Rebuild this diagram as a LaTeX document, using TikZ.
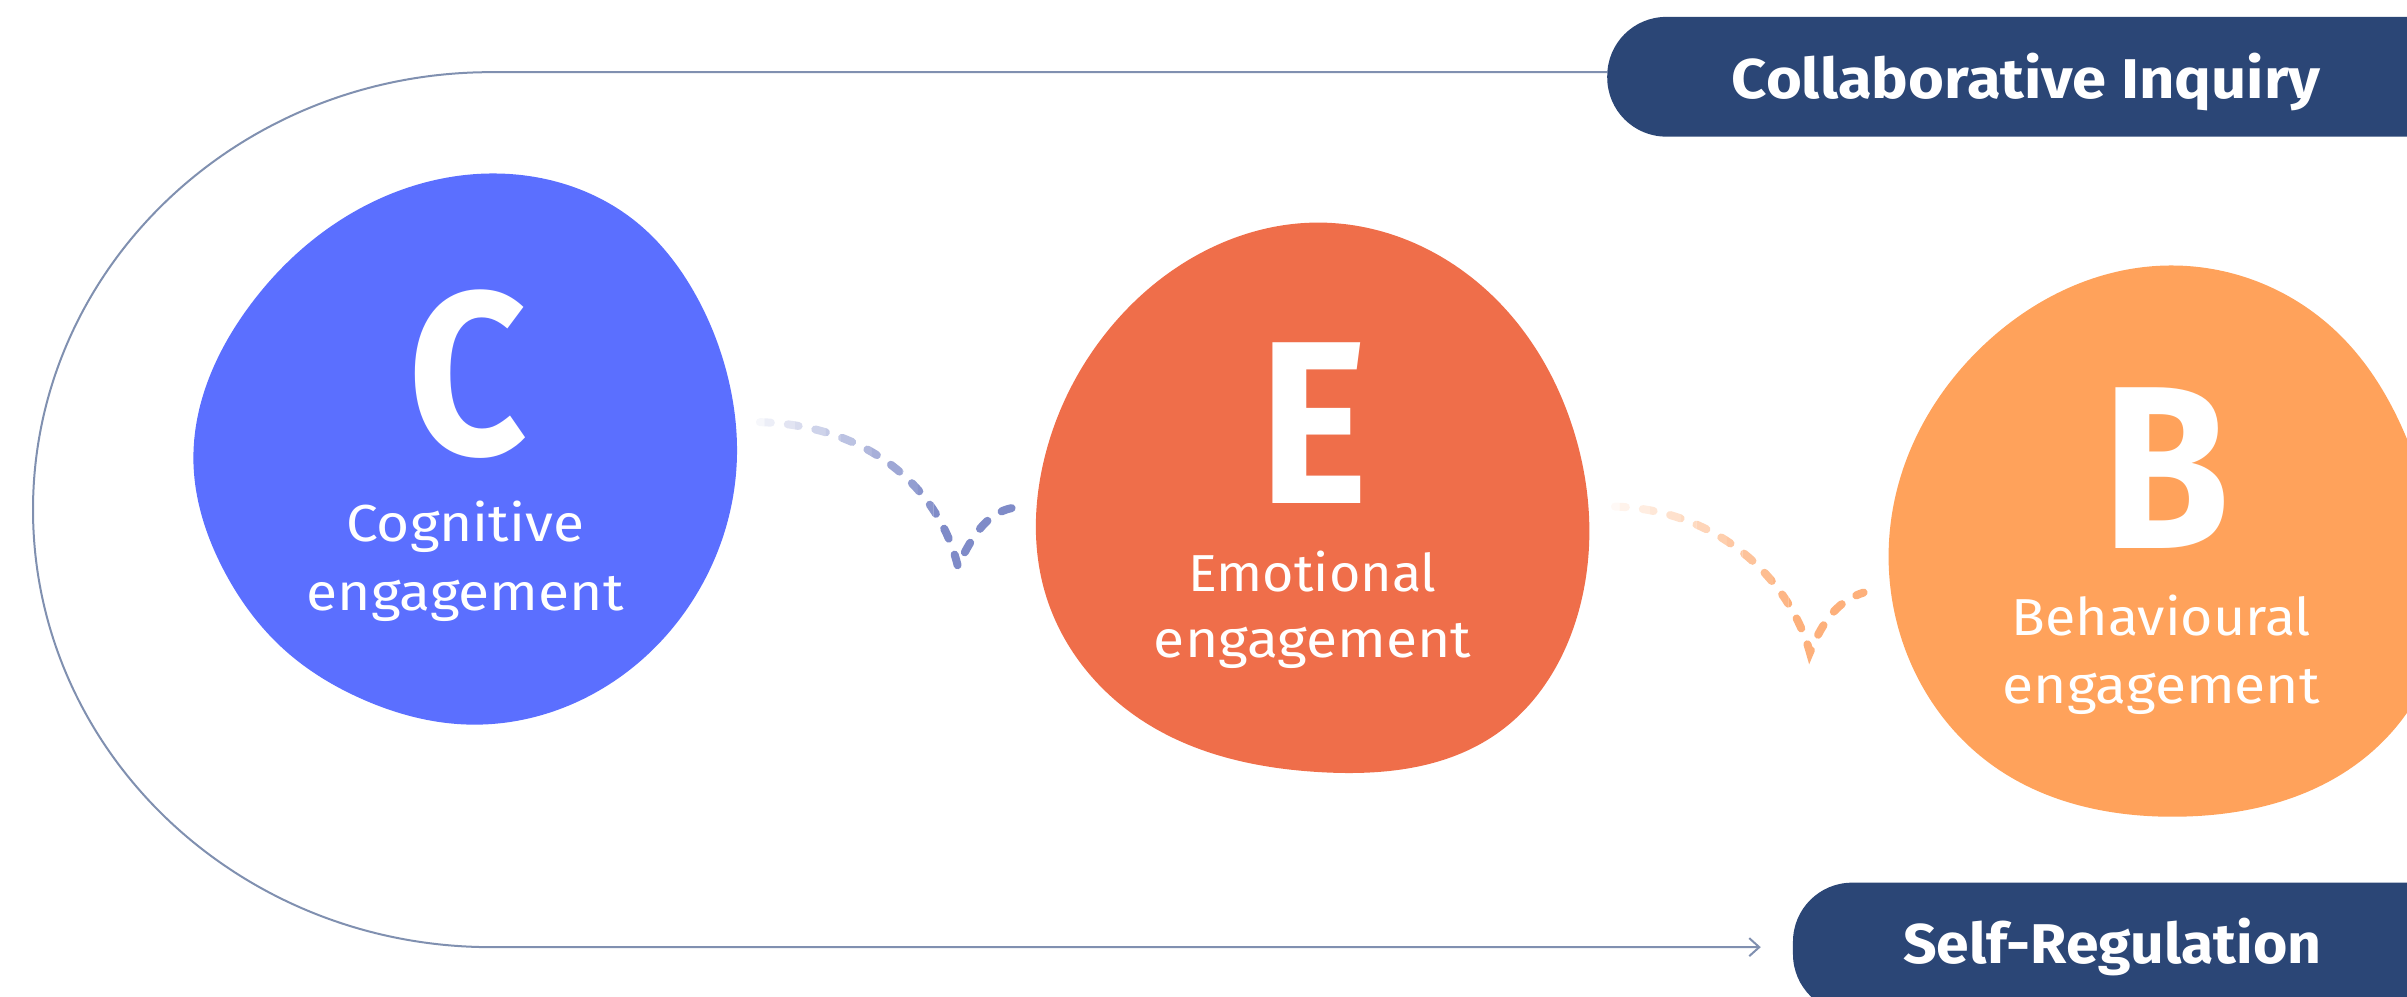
\documentclass[tikz,border=0pt]{standalone}
\usepackage{fontspec}
\setmainfont{Fira Sans}
\usepackage{graphicx}
\usetikzlibrary{arrows.meta,hobby}

\definecolor{cblue}{HTML}{5B6FFF}
\definecolor{eorange}{HTML}{EF6E4A}
\definecolor{borange}{HTML}{FFA25B}
\definecolor{navy}{HTML}{2B4676}
\definecolor{outlinecol}{HTML}{8090B0}
\definecolor{dashblue}{HTML}{7F8BC8}
\definecolor{dashorange}{HTML}{FDB07B}

\newcommand{\fitw}[2]{\resizebox{#1}{\height}{#2}}

\begin{document}
\begin{tikzpicture}[x=0.7675pt,y=-0.7675pt,
  bigletter/.style={text=white,font=\fontsize{116}{116}\selectfont\bfseries,inner sep=0pt,anchor=base,text depth=0pt},
  lbl/.style={text=white,font=\fontsize{26}{30}\selectfont,inner sep=0pt,anchor=base},
  pilltext/.style={text=white,font=\fontsize{28}{32}\selectfont\bfseries,inner sep=0pt,anchor=base},
  pill/.style={fill=navy,rounded corners=29.5pt},
  outlineline/.style={draw=outlinecol,line width=1pt},
  flow/.style={line width=4pt,line cap=round,dash pattern=on 5.5pt off 8.5pt},
  blob/.style={use Hobby shortcut,closed=true}
]
\useasboundingbox (0,0) rectangle (1568,649);
\clip (0,0) rectangle (1568,649);

% outline loop
\coordinate (ciIn) at (1047,47);
\coordinate (srIn) at (1147,617);
\draw[outlineline,-{Straight Barb[length=5pt,width=9pt]}] (ciIn) -- (320,47)
  .. controls (155,47) and (21.5,174.6) .. (21.5,332)
  .. controls (21.5,489.4) and (155,617) .. (320,617) -- (srIn);

% pills
\fill[pill] (1047,11) rectangle (1610,89);
\fill[pill] (1168,575) rectangle (1610,660);
\node[pilltext] (ciText) at (1320,64) {\fitw{294.5pt}{Collaborative Inquiry}};
\node[pilltext] (srText) at (1376,627.5) {\fitw{209pt}{Self-Regulation}};

% blobs
\fill[cblue,blob] (322,113) .. (415,145) .. (452,190) .. (474,245) .. (480,300) .. (455,385)
  .. (390,450) .. (305,472) .. (235,455) .. (186,424) .. (145,370) .. (126,300)
  .. (162,200) .. (236,135);
\fill[eorange,blob] (857,145) .. (965,186) .. (1025,280) .. (1030,392) .. (975,478)
  .. (860,503) .. (745,470) .. (682,390) .. (680,300) .. (722,215) .. (792,160);
\fill[borange,blob] (1410,173) .. (1522,216) .. (1580,320) .. (1588,420) .. (1532,500)
  .. (1420,532) .. (1300,500) .. (1240,420) .. (1235,322) .. (1292,225);

% letters and labels
\node[bigletter] (cLetter) at (305,296) {\scalebox{0.89}[1]{C}};
\node[bigletter] (eLetter) at (856,327.7) {\scalebox{0.89}[1]{E}};
\node[bigletter] (bLetter) at (1411,357) {\scalebox{0.89}[1]{B}};

\node[lbl] (cLabA) at (303,353) {\fitw{119pt}{Cognitive}};
\node[lbl] (cLabB) at (303,397.5) {\fitw{158.5pt}{engagement}};
\node[lbl] (eLabA) at (855,385.5) {\fitw{124pt}{Emotional}};
\node[lbl] (eLabB) at (855,428) {\fitw{158.5pt}{engagement}};
\node[lbl] (bLabA) at (1408,414) {\fitw{149.5pt}{Behavioural}};
\node[lbl] (bLabB) at (1408,458) {\fitw{158.5pt}{engagement}};

% dashed fading flows
\coordinate (cOut) at (495,275);
\coordinate (cTip) at (624,369);
\coordinate (eIn) at (659,331);
\coordinate (eOut) at (1052,330);
\coordinate (eTip) at (1179,425);
\coordinate (bIn) at (1214,386);
\foreach \i in {0,...,12}{
  \pgfmathtruncatemacro\pct{min(100,(\i+1)*100/13)}
  \pgfmathsetmacro\wd{\i<12 ? 10 : 200}
  \begin{scope}
    \clip (488+10*\i,240) rectangle ++(\wd,160);
    \draw[flow,draw=dashblue!\pct!white] (cOut) .. controls (567,277) and (612,319) .. (cTip)
      .. controls (635,345) and (645,334) .. (eIn);
  \end{scope}
  \begin{scope}
    \clip (1045+10*\i,300) rectangle ++(\wd,160);
    \draw[flow,draw=dashorange!\pct!white] (eOut) .. controls (1120,332) and (1166,378) .. (eTip)
      .. controls (1189,401) and (1199,391) .. (bIn);
  \end{scope}
}
\end{tikzpicture}
\end{document}
